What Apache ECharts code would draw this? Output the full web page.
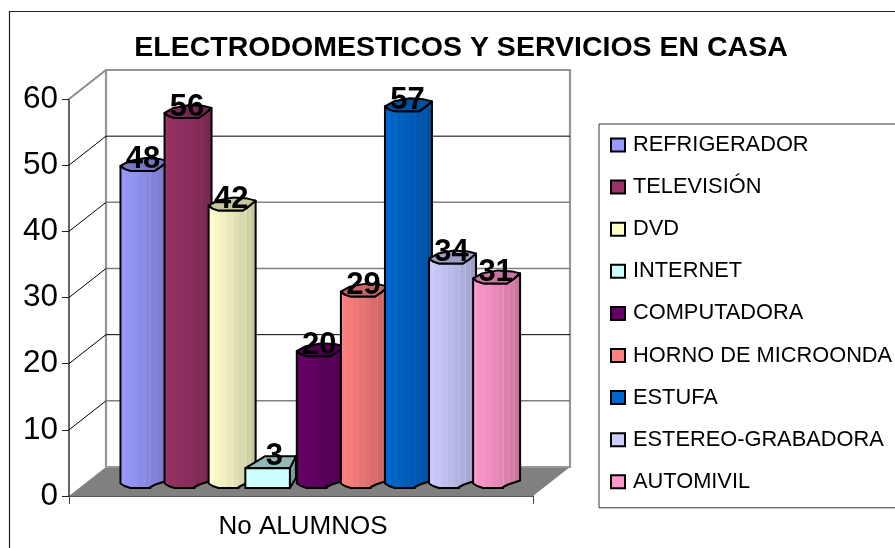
<!DOCTYPE html>
<html>
<head>
<meta charset="utf-8">
<style>html,body{margin:0;padding:0;background:#fff;overflow:hidden}#c{width:895px;height:548px}</style>
<script src="https://cdn.jsdelivr.net/npm/echarts@6/dist/echarts.min.js"></script>
</head>
<body>
<div id="c"></div>
<script>
const titleText = 'ELECTRODOMESTICOS Y SERVICIOS EN CASA';
const categories = ['No ALUMNOS'];
const seriesNames = ['REFRIGERADOR','TELEVISIÓN','DVD','INTERNET','COMPUTADORA','HORNO DE MICROONDA','ESTUFA','ESTEREO-GRABADORA','AUTOMIVIL'];
const seriesValues = [48,56,42,3,20,29,57,34,31];
const seriesColors = ['#9999FF','#993366','#FFFFCC','#CCFFFF','#660066','#FF8080','#0066CC','#CCCCFF','#FF99CC'];
const wallTicks = [0,10,20,30,40,50,60];
const darkGridValues = [20,50];

const DX = 37, DY = -29;
const font = '"Liberation Sans", Arial, sans-serif';

function shade(hex, f) {
  const n = parseInt(hex.slice(1), 16);
  const c = [n >> 16, (n >> 8) & 255, n & 255].map(v => Math.round(v * f));
  return 'rgb(' + c.join(',') + ')';
}
function bands(hex) {
  const steps = [[0,1],[.12,.97],[.26,.94],[.4,.91],[.54,.88],[.63,.93],[.645,.85],[.76,.9],[.775,.82],[.86,.86],[.875,.78],[.94,.74]];
  const stops = [];
  steps.forEach((s, i) => {
    const end = i + 1 < steps.length ? steps[i + 1][0] : 1;
    stops.push({offset: s[0], color: shade(hex, s[1])});
    stops.push({offset: end, color: shade(hex, s[1])});
  });
  return {type:'linear', x:0, y:0, x2:1, y2:0, colorStops: stops};
}

function renderWalls(params, api) {
  const v = api.value(0);
  const p = api.coord([0, v]);
  const band = api.size([1, 0])[0];
  const x0 = p[0] - band / 2, x1 = p[0] + band / 2;
  const children = [];
  if (params.dataIndex === 0) {
    const o = api.coord([0, 0]);
    const top = api.coord([0, wallTicks[wallTicks.length - 1]]);
    children.push({type:'polygon', shape:{points:[[x0,o[1]],[x1,o[1]],[x1+DX,o[1]+DY],[x0+DX,o[1]+DY]]}, style:{fill:'#808080'}});
    children.push({type:'polyline', shape:{points:[[x0+DX,o[1]+DY],[x0+DX,top[1]+DY],[x1+DX,top[1]+DY],[x1+DX,o[1]+DY],[x0+DX,o[1]+DY]]}, style:{fill:'none', stroke:'#969696', lineWidth:2.2}});
    children.push({type:'line', shape:{x1:x0,y1:top[1],x2:x0+DX,y2:top[1]+DY}, style:{stroke:'#8c8c8c', lineWidth:2}});
  } else {
    const last = v === wallTicks[wallTicks.length - 1];
    if (!last) {
      const dark = darkGridValues.indexOf(v) >= 0;
      children.push({type:'line', shape:{x1:x0+DX,y1:p[1]+DY,x2:x1+DX,y2:p[1]+DY}, style:{stroke: dark ? '#000' : '#808080', lineWidth: dark ? 1 : 1.5}});
      children.push({type:'line', shape:{x1:x0,y1:p[1],x2:x0+DX,y2:p[1]+DY}, style:{stroke:'#000', lineWidth:1}});
    }
  }
  return {type:'group', children};
}

function renderBar(params, api) {
  const i = params.seriesIndex - 1;
  const value = api.value(1);
  const p = api.coord([0, value]);
  const base = api.coord([0, 0]);
  const band = api.size([1, 0])[0];
  const slot = band * 0.095;
  const left = p[0] - band / 2 + band * 0.095 + slot * i;
  const color = seriesColors[i];
  const stroke = {stroke:'#000', lineWidth:2, lineJoin:'round'};
  const children = [];
  let lx, ly;
  if (seriesNames[i] === 'INTERNET') {
    const w = slot + 0.5, yT = p[1] - 8, yB = base[1] - 8;
    children.push({type:'polygon', shape:{points:[[left+w,yT],[left+w+6,yT-12],[left+w+6,yB-10],[left+w,yB]]}, style:Object.assign({fill:shade(color,.62)}, stroke)});
    children.push({type:'polygon', shape:{points:[[left,yT],[left+20,yT-12],[left+w+6,yT-12],[left+w,yT]]}, style:Object.assign({fill:shade(color,.72)}, stroke)});
    children.push({type:'rect', shape:{x:left,y:yT,width:w,height:yB-yT}, style:Object.assign({fill:color}, stroke)});
    lx = left + 29; ly = yT - 12;
  } else {
    const l = left + 7.4, w = 47;
    const yT = p[1] - 12.5, yB = base[1] - 12.5;
    children.push({type:'polygon', shape:{points:[
      [l,yT],[l+4,yT+3],[l+10,yT+5],[l+34,yT+5],[l+40,yT+1],[l+w,yT-5],
      [l+w,yB-3],[l+w-12,yB+1],[l+w-17,yB+3.5],[l+30,yB+4.5],[l+10,yB+4.5],[l+4,yB+2.5],[l,yB]
    ]}, style:Object.assign({fill:bands(color)}, stroke)});
    children.push({type:'polygon', shape:{points:[[l,yT],[l+4,yT+3],[l+10,yT+5],[l+34,yT+5],[l+40,yT+1],[l+w,yT-5],[l+39,yT-7],[l+25,yT-8],[l+9,yT-5]]}, style:Object.assign({fill:shade(color,.78)}, stroke)});
    lx = l + 22.5; ly = yT - 6;
  }
  children.push({type:'text', z2:100, style:{text:String(value), x:lx, y:ly, align:'center', verticalAlign:'middle', fill:'#000', font:'bold 31px ' + font}});
  return {type:'group', children};
}

const option = {
  animation:false,
  backgroundColor:'#fff',
  title:{text:titleText, left:456, top:29, textAlign:'center', textStyle:{fontFamily:font, fontWeight:'bold', fontSize:28.5, color:'#000'}},
  grid:{left:69, right:362, top:99, bottom:52},
  graphic:[{type:'rect', silent:true, z:-10, shape:{x:9.5,y:11.5,width:900,height:560}, style:{fill:'none', stroke:'#222', lineWidth:1.2}}],
  legend:{
    orient:'vertical', left:599, top:124, padding:[10,12,15,11],
    borderColor:'#333', borderWidth:1,
    itemGap:20.1, itemWidth:14, itemHeight:13, icon:'rect',
    itemStyle:{borderColor:'#000', borderWidth:2},
    textStyle:{fontFamily:font, fontSize:21.8, color:'#000', padding:[0,0,0,3]},
    data:seriesNames
  },
  xAxis:{type:'category', data:categories, axisLine:{lineStyle:{color:'#222', width:1.5}},
    axisTick:{show:true, length:8, lineStyle:{color:'#444', width:1}},
    axisLabel:{fontFamily:font, fontSize:26, color:'#000', margin:18, padding:[0,0,0,4]}},
  yAxis:{type:'value', min:0, max:60, interval:10, splitLine:{show:false},
    axisLine:{show:true, lineStyle:{color:'#333', width:1.5}},
    axisTick:{show:true, length:7, lineStyle:{color:'#222', width:1}},
    axisLabel:{fontFamily:font, fontSize:31.5, color:'#000', margin:11, padding:[3,0,0,0]}},
  series:[
    {type:'custom', name:'__walls', silent:true, z:1, renderItem:renderWalls, encode:{x:1,y:0}, data:wallTicks.map(v => [v, 0])}
  ].concat(seriesNames.map((n, i) => ({
    type:'custom', name:n, z:2, renderItem:renderBar,
    itemStyle:{color:seriesColors[i]},
    encode:{x:0,y:1}, data:[[0, seriesValues[i]]]
  })))
};
echarts.init(document.getElementById('c'), null, {renderer:'canvas'}).setOption(option);
</script>
</body>
</html>
